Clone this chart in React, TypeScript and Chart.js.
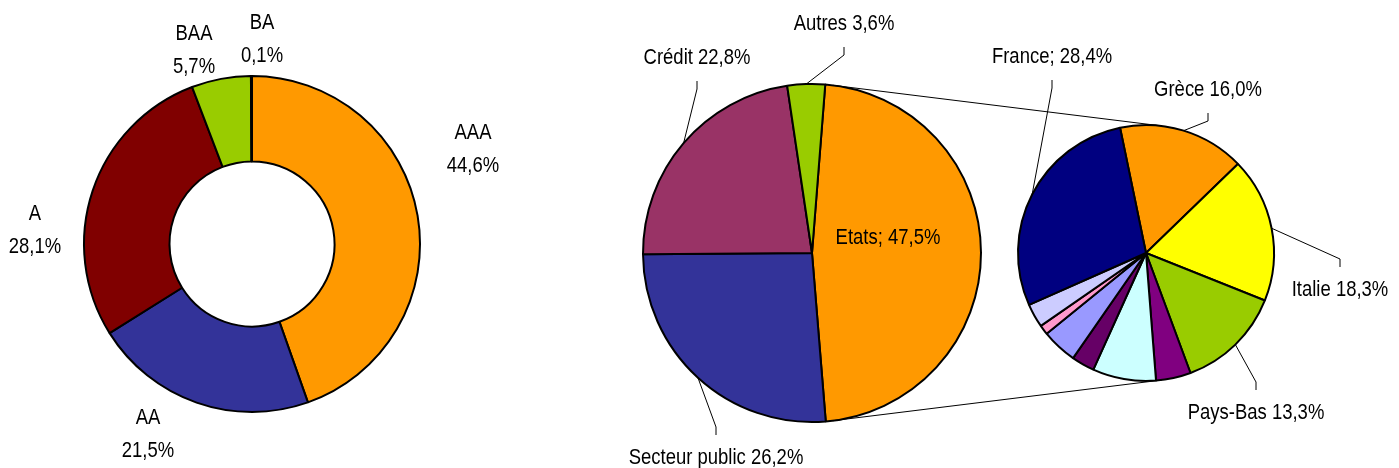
import React, { useEffect, useRef } from "react";
import { Chart, registerables } from "chart.js";

Chart.register(...registerables);

const W = 1399;
const H = 468;
const FONT = '22px "Liberation Sans", Arial, sans-serif';
const NARROW = 0.84; // horizontal compression to mimic Arial Narrow

// ---- Data ----
const ratingLabels = ["AAA", "AA", "A", "BAA", "BA"];
const ratingValues = [44.6, 21.5, 28.1, 5.7, 0.1];
const ratingColors = ["#FF9900", "#333399", "#800000", "#99CC00", "#000000"];

const sectorLabels = ["Etats", "Secteur public", "Crédit", "Autres"];
const sectorValues = [47.5, 26.2, 22.8, 3.6];
const sectorColors = ["#FF9900", "#333399", "#993366", "#99CC00"];

const countryLabels = ["Grèce", "Italie", "Pays-Bas", "", "", "", "", "", "", "France"];
const countryValues = [16.0, 18.3, 13.3, 4.4, 8.0, 2.9, 4.5, 1.2, 3.0, 28.4];
const countryColors = [
  "#FF9900", "#FFFF00", "#99CC00", "#800080", "#CCFFFF",
  "#660066", "#9999FF", "#FF99CC", "#CCCCFF", "#000080",
];

// ---- Label layout (offsets from each pie's centre) ----
type LabelSpec = { dx: number; dy: number; sep?: string; leader?: boolean; twoLines?: boolean } | null;

const ratingLabelLayout: LabelSpec[] = [
  { dx: 221, dy: -95, twoLines: true },
  { dx: -104, dy: 190, twoLines: true },
  { dx: -217, dy: -14, twoLines: true },
  { dx: -58, dy: -194, twoLines: true },
  { dx: 10, dy: -205, twoLines: true },
];
const sectorLabelLayout: LabelSpec[] = [
  { dx: 76, dy: -15, sep: "; ", leader: false },
  { dx: -96, dy: 205, sep: " ", leader: true },
  { dx: -115, dy: -195, sep: " ", leader: true },
  { dx: 32, dy: -229, sep: " ", leader: true },
];
const countryLabelLayout: LabelSpec[] = [
  { dx: 62, dy: -163, sep: " ", leader: true },
  { dx: 194, dy: 37, sep: " ", leader: true },
  { dx: 110, dy: 160, sep: " ", leader: true },
  null, null, null, null, null, null,
  { dx: -94, dy: -196, sep: "; ", leader: true },
];

const fmt = (v: number) => v.toFixed(1).replace(".", ",") + "%";

function labelPlugin(id: string, specs: LabelSpec[], labels: string[], values: number[]) {
  return {
    id,
    afterDatasetsDraw(chart: any) {
      const ctx = chart.ctx as CanvasRenderingContext2D;
      const meta = chart.getDatasetMeta(0);
      ctx.save();
      ctx.font = FONT;
      ctx.fillStyle = "#000";
      ctx.strokeStyle = "#000";
      ctx.lineWidth = 1;
      ctx.textAlign = "center";
      ctx.textBaseline = "middle";
      meta.data.forEach((arc: any, i: number) => {
        const spec = specs[i];
        if (!spec) return;
        const { x, y, startAngle, endAngle, outerRadius } = arc;
        const lx = x + spec.dx;
        const ly = y + spec.dy;
        if (spec.leader) {
          const mid = (startAngle + endAngle) / 2;
          const ex = x + outerRadius * Math.cos(mid);
          const ey = y + outerRadius * Math.sin(mid);
          const s = ly < ey ? 1 : -1;
          ctx.beginPath();
          ctx.moveTo(ex, ey);
          ctx.lineTo(lx, ly + s * 31);
          ctx.lineTo(lx, ly + s * 23);
          ctx.stroke();
        }
        const lines = spec.twoLines
          ? [labels[i], fmt(values[i])]
          : [labels[i] + (spec.sep ?? " ") + fmt(values[i])];
        const lh = 33;
        lines.forEach((t, k) => {
          ctx.save();
          ctx.translate(lx, ly + (k - (lines.length - 1) / 2) * lh);
          ctx.scale(NARROW, 1);
          ctx.fillText(t, 0, 0);
          ctx.restore();
        });
      });
      ctx.restore();
    },
  };
}

function baseOptions(cx: number, cy: number, r: number, extra: any = {}) {
  const a = r + 2;
  return {
    responsive: false,
    animation: false as const,
    radius: r,
    layout: {
      padding: { left: cx - a, right: W - cx - a, top: cy - a, bottom: H - cy - a },
    },
    plugins: { legend: { display: false }, tooltip: { enabled: false } },
    ...extra,
  };
}

export default function App() {
  const c1 = useRef<HTMLCanvasElement>(null);
  const c2 = useRef<HTMLCanvasElement>(null);
  const c3 = useRef<HTMLCanvasElement>(null);

  useEffect(() => {
    const ch1 = new Chart(c1.current!, {
      type: "doughnut",
      data: {
        labels: ratingLabels,
        datasets: [
          {
            data: ratingValues,
            backgroundColor: ratingColors,
            borderColor: "#000",
            borderWidth: 2,
          },
        ],
      },
      options: baseOptions(252, 244, 168, { cutout: 83, rotation: 0 }) as any,
      plugins: [labelPlugin("ratingLabels", ratingLabelLayout, ratingLabels, ratingValues)],
    });

    const ch2 = new Chart(c2.current!, {
      type: "pie",
      data: {
        labels: sectorLabels,
        datasets: [
          {
            data: sectorValues,
            backgroundColor: sectorColors,
            borderColor: "#000",
            borderWidth: 2,
          },
        ],
      },
      options: baseOptions(812, 253, 169, { rotation: 4.5 }) as any,
      plugins: [labelPlugin("sectorLabels", sectorLabelLayout, sectorLabels, sectorValues)],
    });

    const connectors = {
      id: "connectors",
      beforeDatasetsDraw(chart: any) {
        const a: any = ch2.getDatasetMeta(0).data[0];
        const b: any = chart.getDatasetMeta(0).data[0];
        if (!a || !b) return;
        const dx = b.x - a.x;
        const dy = b.y - a.y;
        const D = Math.hypot(dx, dy);
        const ux = dx / D, uy = dy / D;
        const k = (a.outerRadius - b.outerRadius) / D;
        const h = Math.sqrt(Math.max(0, 1 - k * k));
        const ctx = chart.ctx as CanvasRenderingContext2D;
        ctx.save();
        ctx.strokeStyle = "#000";
        ctx.lineWidth = 1;
        [-1, 1].forEach((s) => {
          const nx = k * ux - s * h * uy;
          const ny = k * uy + s * h * ux;
          ctx.beginPath();
          ctx.moveTo(a.x + a.outerRadius * nx, a.y + a.outerRadius * ny);
          ctx.lineTo(b.x + b.outerRadius * nx, b.y + b.outerRadius * ny);
          ctx.stroke();
        });
        ctx.restore();
      },
    };

    const ch3 = new Chart(c3.current!, {
      type: "pie",
      data: {
        labels: countryLabels,
        datasets: [
          {
            data: countryValues,
            backgroundColor: countryColors,
            borderColor: "#000",
            borderWidth: 2,
          },
        ],
      },
      options: baseOptions(1146, 253, 128, { rotation: -11.7 }) as any,
      plugins: [connectors, labelPlugin("countryLabels", countryLabelLayout, countryLabels, countryValues)],
    });

    return () => {
      ch1.destroy();
      ch2.destroy();
      ch3.destroy();
    };
  }, []);

  const cs: React.CSSProperties = { position: "absolute", left: 0, top: 0 };
  return (
    <div style={{ position: "fixed", left: 0, top: 0, width: W, height: H, background: "#fff" }}>
      <canvas ref={c1} width={W} height={H} style={cs} />
      <canvas ref={c2} width={W} height={H} style={cs} />
      <canvas ref={c3} width={W} height={H} style={cs} />
    </div>
  );
}
